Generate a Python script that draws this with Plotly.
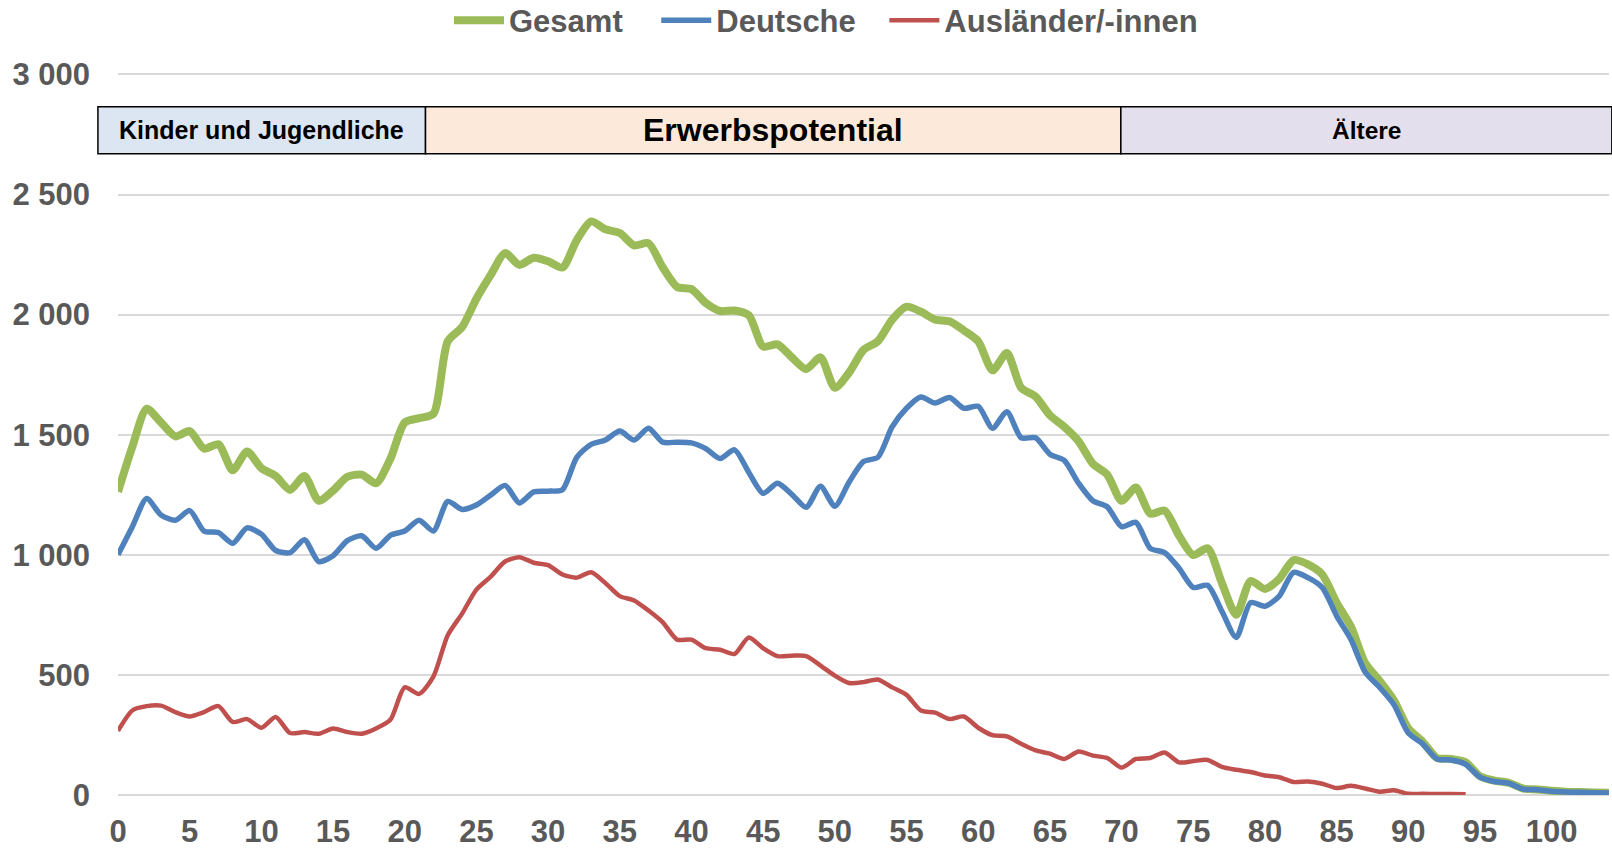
import plotly.graph_objects as go

# ---------------- data ----------------
ages = list(range(0, 105))

gesamt = [1262, 1450, 1608, 1551, 1493, 1515, 1442, 1460, 1352, 1430,
          1361, 1328, 1270, 1328, 1225, 1267, 1325, 1334, 1298, 1400,
          1551, 1569, 1587, 1889, 1948, 2066, 2165, 2256, 2207, 2237,
          2222, 2196, 2310, 2388, 2355, 2340, 2288, 2297, 2196, 2115,
          2106, 2048, 2015, 2017, 1997, 1867, 1876, 1822, 1773, 1822,
          1695, 1759, 1853, 1889, 1979, 2033, 2012, 1979, 1972, 1934,
          1889, 1768, 1840, 1695, 1659, 1581, 1533, 1473, 1379, 1334,
          1225, 1280, 1171, 1184, 1081, 999, 1027, 882, 750, 891,
          858, 900, 978, 960, 918, 801, 701, 548, 475, 394,
          277, 222, 154, 150, 136, 78, 60, 51, 27, 23,
          18, 14, 12, 10, 9]

deutsche = [1000, 1117, 1234, 1166, 1144, 1184, 1099, 1093, 1048, 1112,
            1086, 1018, 1009, 1063, 972, 996, 1059, 1079, 1027, 1081,
            1099, 1144, 1099, 1222, 1189, 1207, 1249, 1289, 1216, 1262,
            1265, 1271, 1406, 1460, 1478, 1515, 1478, 1527, 1469, 1469,
            1466, 1442, 1401, 1437, 1343, 1256, 1298, 1252, 1198, 1285,
            1202, 1303, 1388, 1406, 1533, 1610, 1657, 1632, 1655, 1610,
            1618, 1527, 1596, 1487, 1487, 1419, 1393, 1298, 1225, 1200,
            1117, 1135, 1027, 1009, 945, 864, 873, 765, 656, 801,
            786, 828, 927, 905, 864, 746, 647, 511, 448, 376,
            258, 213, 150, 146, 128, 74, 56, 49, 25, 22,
            16, 13, 11, 9, 8]

auslaender_ages = list(range(0, 95))
auslaender = [267, 352, 370, 372, 345, 327, 345, 370, 304, 316,
              280, 325, 258, 262, 255, 277, 262, 255, 277, 313,
              448, 421, 493, 665, 755, 855, 909, 972, 990, 967,
              957, 918, 905, 927, 882, 828, 810, 768, 719, 647,
              647, 611, 605, 587, 656, 611, 578, 580, 578, 539,
              497, 466, 470, 481, 448, 417, 352, 343, 316, 327,
              280, 249, 244, 213, 186, 172, 150, 181, 164, 154,
              114, 150, 154, 177, 136, 141, 146, 117, 105, 96,
              81, 74, 54, 56, 47, 29, 38, 27, 14, 20,
              5, 5, 4, 4, 3]

series_names = ["Gesamt", "Deutsche", "Ausländer/-innen"]

y_tickvals = [0, 500, 1000, 1500, 2000, 2500, 3000]
y_ticktext = ["0", "500", "1 000", "1 500", "2 000", "2 500", "3 000"]
x_tickvals = list(range(0, 101, 5))

band_labels = ["Kinder und Jugendliche", "Erwerbspotential", "Ältere"]
band_start = [-1.4, 21.45, 69.95]
band_end = [21.45, 69.95, 104.2]
band_bottom = 2670
band_top = 2865

# ---------------- style ----------------
X_MAX = 104
Y_MAX = 3010
GRAY = "#595959"
colors = ["#9BBB59", "#4F81BD", "#C0504D"]
widths = [8, 5.5, 4.5]
band_fill = ["#DCE6F2", "#FDE9D9", "#E4DFEC"]
band_font = [25, 32, 24.5]
FONT = "Liberation Sans, Arial, sans-serif"
legend_ids = ["legend", "legend2", "legend3"]
legend_x = [0.222, 0.361, 0.514]

fig = go.Figure()
for name, xs, ys, c, w, lg in zip(series_names,
                                  [ages, ages, auslaender_ages],
                                  [gesamt, deutsche, auslaender],
                                  colors, widths, legend_ids):
    fig.add_trace(go.Scatter(
        x=xs, y=ys, name=name, mode="lines", legend=lg,
        line=dict(color=c, width=w, shape="spline", smoothing=0.7),
    ))

for lab, s, e, fill, fs in zip(band_labels, band_start, band_end, band_fill, band_font):
    fig.add_shape(type="rect", xref="paper", yref="y",
                  x0=s / X_MAX, x1=e / X_MAX, y0=band_bottom, y1=band_top,
                  fillcolor=fill, line=dict(color="black", width=1.5), layer="above")
    fig.add_annotation(xref="paper", yref="y", x=(s + e) / 2 / X_MAX,
                       y=(band_bottom + band_top) / 2, text=lab, showarrow=False,
                       font=dict(family=FONT, size=fs, color="black", weight="bold"),
                       xanchor="center", yanchor="middle")

legend_style = dict(orientation="h", y=1.071, yanchor="middle", xanchor="left",
                    font=dict(family=FONT, size=31, color=GRAY, weight="bold"),
                    bgcolor="rgba(0,0,0,0)", itemwidth=50, borderwidth=0)
legends = {lg: dict(legend_style, x=lx) for lg, lx in zip(legend_ids, legend_x)}

fig.update_layout(
    width=1612, height=849, autosize=False,
    margin=dict(l=118, r=3, t=72, b=54, pad=0, autoexpand=False),
    paper_bgcolor="white", plot_bgcolor="white",
    font=dict(family=FONT, color=GRAY, size=30, weight="bold"),
    showlegend=True,
    xaxis=dict(range=[0, X_MAX], tickvals=x_tickvals, showgrid=False, zeroline=False,
               showline=False, ticks="", ticklabelstandoff=15,
               tickfont=dict(family=FONT, size=31, color=GRAY, weight="bold")),
    yaxis=dict(range=[0, Y_MAX], tickvals=y_tickvals, ticktext=y_ticktext,
               showgrid=True, gridcolor="#D9D9D9", gridwidth=1.5,
               zeroline=True, zerolinecolor="#D9D9D9", zerolinewidth=1.5,
               showline=False, ticks="", ticklabelstandoff=27,
               tickfont=dict(family=FONT, size=31, color=GRAY, weight="bold")),
    **legends,
)

fig.write_html("out.html", config={"displayModeBar": False},
               post_script="document.body.style.margin='0';")
